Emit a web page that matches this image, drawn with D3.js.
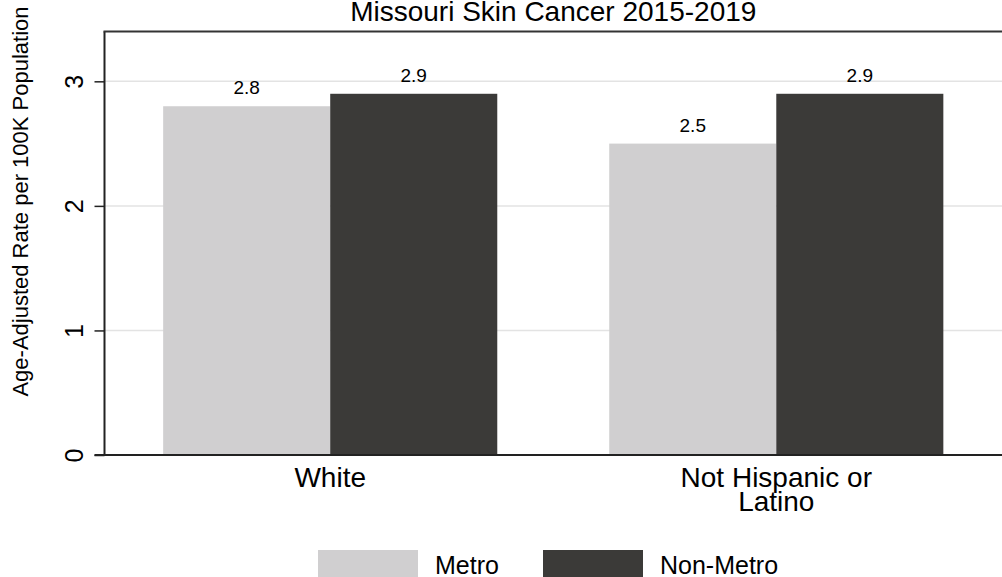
<!DOCTYPE html>
<html><head><meta charset="utf-8">
<script src="https://cdn.jsdelivr.net/npm/d3@7"></script>
<style>body{margin:0;background:#fff}svg{display:block}text{font-family:"Liberation Sans",Arial,Helvetica,sans-serif;fill:#000}</style>
</head><body>
<script>
const title = "Missouri Skin Cancer 2015-2019";
const yTitle = "Age-Adjusted Rate per 100K Population";
const categories = ["White", "Not Hispanic or Latino"];
const categoryLines = [["White"], ["Not Hispanic or", "Latino"]];
const series = ["Metro", "Non-Metro"];
const metroValues = [2.8, 2.5];
const nonMetroValues = [2.9, 2.9];
const yTicks = [0, 1, 2, 3];
const colors = ["#d0cfd0", "#3b3a38"];

(function () {
const W = 1002, H = 577;
const pLeft = 104.5, pRight = 1002, pTop = 31.5, pBottom = 455;
const svg = d3.select("body").append("svg").attr("width", W).attr("height", H);

const y = d3.scaleLinear().domain([0, 3.4]).range([pBottom, pTop]);
const x0 = d3.scaleBand().domain(categories).range([pLeft, pRight]).paddingInner(0.251).paddingOuter(0.1315);
const x1 = d3.scaleBand().domain(series).range([0, x0.bandwidth()]);
const values = [metroValues, nonMetroValues];

// gridlines
svg.append("g").selectAll("line").data(yTicks.filter(d => d > 0)).join("line")
  .attr("x1", pLeft).attr("x2", pRight).attr("y1", d => y(d)).attr("y2", d => y(d))
  .attr("stroke", "#e3e3e3").attr("stroke-width", 1.5);

// bars
const rows = [];
categories.forEach((c, i) => series.forEach((s, j) => rows.push({c, s, v: values[j][i], j})));
svg.append("g").selectAll("rect").data(rows).join("rect")
  .attr("x", d => x0(d.c) + x1(d.s)).attr("width", x1.bandwidth())
  .attr("y", d => y(d.v)).attr("height", d => y(0) - y(d.v))
  .attr("fill", d => colors[d.j]);

// value labels
svg.append("g").selectAll("text").data(rows).join("text")
  .attr("x", d => x0(d.c) + x1(d.s) + x1.bandwidth() / 2)
  .attr("y", d => y(d.v) - 12)
  .attr("text-anchor", "middle").attr("font-size", 19)
  .text(d => d.v.toFixed(1));

// y axis
const yAxis = d3.axisLeft(y).tickValues(yTicks).tickSize(10).tickFormat(d3.format("d"));
const gy = svg.append("g").attr("transform", `translate(${pLeft},0)`).call(yAxis);
gy.select(".domain").remove();
gy.selectAll(".tick line").attr("stroke", "#222").attr("stroke-width", 1.5);
gy.selectAll(".tick text").remove();
gy.selectAll(".tick").append("text")
  .attr("transform", "translate(-22,0) rotate(-90)")
  .attr("text-anchor", "middle").attr("font-size", 25).attr("fill", "#000")
  .attr("font-family", '"Liberation Sans",Arial,sans-serif')
  .text(d => d);

// axis lines
svg.append("line").attr("x1", pLeft).attr("x2", pLeft).attr("y1", pTop).attr("y2", pBottom)
  .attr("stroke", "#222").attr("stroke-width", 2);
svg.append("line").attr("x1", pLeft - 10).attr("x2", pRight).attr("y1", pBottom).attr("y2", pBottom)
  .attr("stroke", "#222").attr("stroke-width", 2);
svg.append("line").attr("x1", pLeft - 1).attr("x2", pRight).attr("y1", pTop).attr("y2", pTop)
  .attr("stroke", "#333").attr("stroke-width", 2);

// x labels (one text per line)
categories.forEach((c, i) => {
  categoryLines[i].forEach((ln, k) => svg.append("text")
    .attr("text-anchor", "middle").attr("font-size", 28)
    .attr("x", x0(c) + x0.bandwidth() / 2).attr("y", 487 + k * 24).text(ln));
});

// title
svg.append("text").attr("x", (pLeft + pRight) / 2).attr("y", 21)
  .attr("text-anchor", "middle").attr("font-size", 28).text(title);

// y title
svg.append("text").attr("transform", `translate(28,201.5) rotate(-90)`)
  .attr("text-anchor", "middle").attr("font-size", 22).text(yTitle);

// legend
const legendX = [318, 543];
const lg = svg.append("g").selectAll("g").data(series).join("g");
lg.append("rect").attr("x", (d, i) => legendX[i]).attr("y", 550).attr("width", 100).attr("height", 30)
  .attr("fill", (d, i) => colors[i]);
lg.append("text").attr("x", (d, i) => legendX[i] + 117).attr("y", 574).attr("font-size", 25).text(d => d);
})();
</script>
</body></html>
